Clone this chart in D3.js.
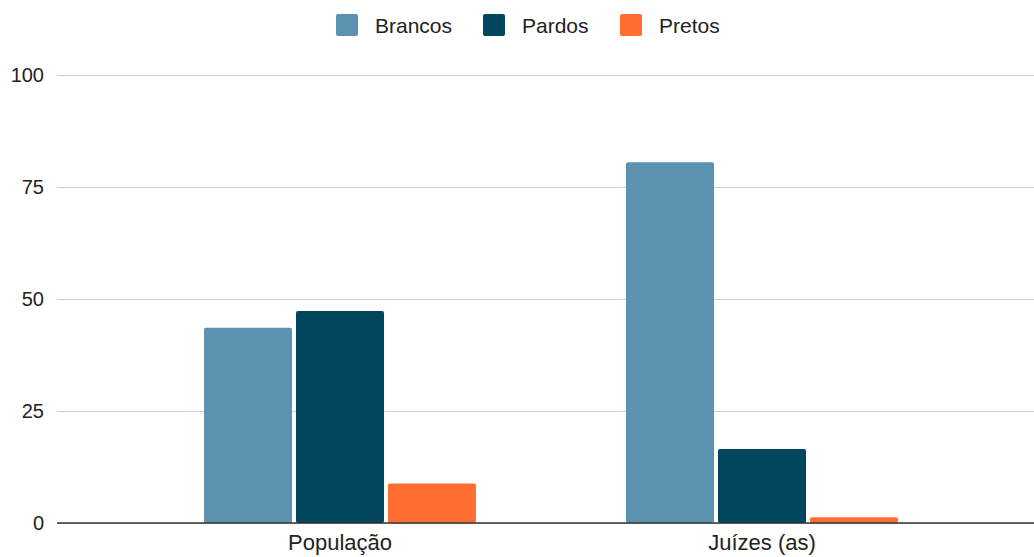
<!DOCTYPE html>
<html>
<head>
<meta charset="utf-8">
<script src="https://cdn.jsdelivr.net/npm/d3@7"></script>
<style>
  body { margin: 0; background: #fff; }
  text { font-family: "Liberation Sans", Arial, sans-serif; }
</style>
</head>
<body>
<div id="chart"></div>
<script>
var categories = ["População", "Juízes (as)"];
var seriesNames = ["Brancos", "Pardos", "Pretos"];
var seriesColors = ["#5b92b0", "#02455f", "#ff6d31"];
var brancos = [43.6, 80.5];
var pardos = [47.3, 16.5];
var pretos = [8.8, 1.3];
var yTicks = [0, 25, 50, 75, 100];

var W = 1034, H = 557;
var margin = { top: 75, right: 0, bottom: 34, left: 57 },
    width = W - margin.left - margin.right,
    height = H - margin.top - margin.bottom;

var svg = d3.select("#chart")
    .append("svg")
    .attr("width", W)
    .attr("height", H)
    .append("g")
    .attr("transform", "translate(" + margin.left + "," + margin.top + ")");

var series = [brancos, pardos, pretos];

var y = d3.scaleLinear().domain([0, 100]).range([height, 0]);

// categories sit at 340 and 762 in page coords
var x0 = d3.scaleBand().domain(categories).range([72, 916]);
var x1 = d3.scaleBand().domain(seriesNames).range([0, 272]).paddingInner(4 / 92);

// grid + tick labels
svg.append("g")
    .call(d3.axisLeft(y).tickValues(yTicks).tickSize(-width).tickPadding(13))
    .call(function (g) {
        g.select(".domain").remove();
        g.selectAll(".tick line").attr("stroke", "#cccccc").attr("stroke-width", 1.2);
        g.selectAll(".tick text")
            .attr("x", -13)
            .style("font-size", "20px")
            .attr("fill", "#222");
    });

var groups = svg.selectAll(".grp")
    .data(categories)
    .enter().append("g")
    .attr("transform", function (d) { return "translate(" + (x0(d) + x0.bandwidth() / 2 - 136) + ",0)"; });

groups.selectAll("rect")
    .data(function (d, i) {
        return seriesNames.map(function (s, j) { return { s: s, v: series[j][i], c: seriesColors[j] }; });
    })
    .enter().append("rect")
    .attr("x", function (d) { return x1(d.s); })
    .attr("y", function (d) { return y(d.v); })
    .attr("width", x1.bandwidth())
    .attr("height", function (d) { return y(0) - y(d.v); })
    .attr("rx", 2)
    .attr("fill", function (d) { return d.c; });

// baseline
svg.append("line")
    .attr("x1", 0).attr("x2", width)
    .attr("y1", y(0)).attr("y2", y(0))
    .attr("stroke", "#333").attr("stroke-width", 1.5);

// x labels
svg.selectAll(".xlab")
    .data(categories)
    .enter().append("text")
    .attr("x", function (d) { return x0(d) + x0.bandwidth() / 2; })
    .attr("y", height + 27)
    .attr("text-anchor", "middle")
    .style("font-size", "22px")
    .attr("fill", "#222")
    .text(function (d) { return d; });

// legend
var legendX = [336, 483, 620];
var legend = d3.select("svg").append("g");
seriesNames.forEach(function (s, i) {
    legend.append("rect")
        .attr("x", legendX[i]).attr("y", 14)
        .attr("width", 22).attr("height", 22)
        .attr("rx", 2)
        .attr("fill", seriesColors[i]);
    legend.append("text")
        .attr("x", legendX[i] + 39).attr("y", 33)
        .style("font-size", "21px")
        .attr("fill", "#222")
        .text(s);
});
</script>
</body>
</html>
